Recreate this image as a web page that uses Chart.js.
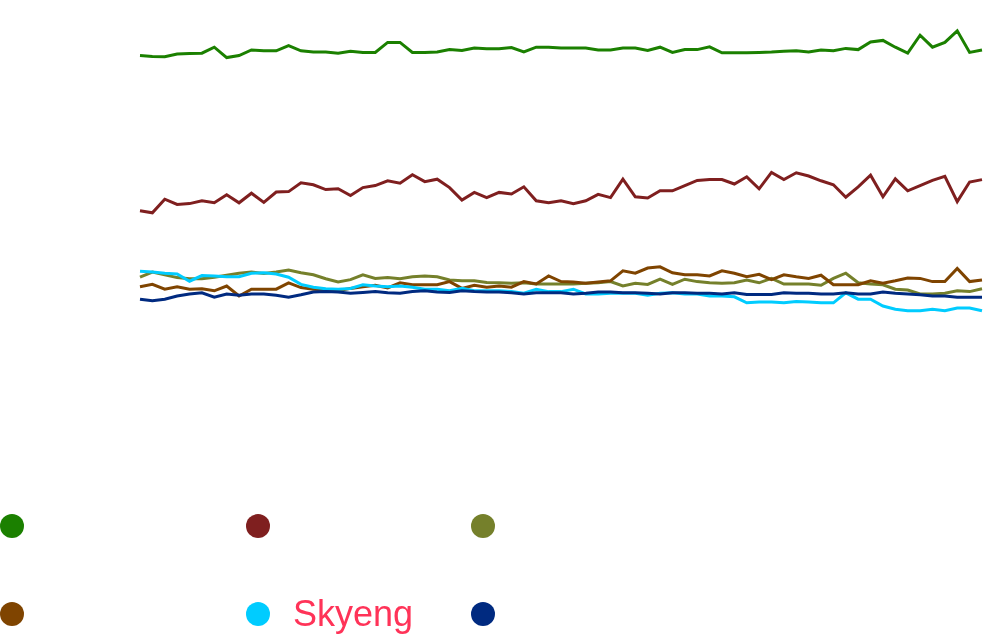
<!DOCTYPE html>
<html>
<head>
<meta charset="utf-8">
<script src="https://cdn.jsdelivr.net/npm/chart.js@4"></script>
<style>
  html, body { margin: 0; padding: 0; background: #fff; }
  body { width: 983px; height: 636px; position: relative; overflow: hidden; font-family: "Liberation Sans", Arial, sans-serif; }
  #chart-box { position: absolute; left: 0; top: 0; width: 983px; height: 440px; }
  #legend { position: absolute; left: 0; top: 0; width: 983px; height: 636px; pointer-events: none; }
  .item { position: absolute; display: flex; align-items: center; height: 40px; }
  .dot { width: 24px; height: 24px; border-radius: 50%; flex: none; }
  .name { margin-left: 23px; font-size: 36px; line-height: 40px; color: #ff3358; white-space: nowrap; }
</style>
</head>
<body>
<div id="chart-box"><canvas id="trend"></canvas></div>
<div id="legend"></div>
<script>
// 週ごとの値 (69 点)
const weeks = [1, 2, 3, 4, 5, 6, 7, 8, 9, 10, 11, 12, 13, 14, 15, 16, 17, 18, 19, 20,
  21, 22, 23, 24, 25, 26, 27, 28, 29, 30, 31, 32, 33, 34, 35, 36, 37, 38, 39, 40,
  41, 42, 43, 44, 45, 46, 47, 48, 49, 50, 51, 52, 53, 54, 55, 56, 57, 58, 59, 60,
  61, 62, 63, 64, 65, 66, 67, 68, 69];

const seriesNames = ['', '', '', '', 'Skyeng', ''];
const seriesColors = ['#1b8000', '#7f1f1f', '#75802b', '#7f4400', '#00ccff', '#002a80'];

const greenValues = [93.6, 93.4, 93.3, 94.0, 94.1, 94.2, 95.7, 93.1, 93.6, 95.0,
  94.8, 94.8, 96.1, 94.8, 94.5, 94.5, 94.2, 94.7, 94.4, 94.4,
  96.9, 96.9, 94.4, 94.4, 94.5, 95.1, 94.9, 95.5, 95.3, 95.3,
  95.6, 94.5, 95.7, 95.7, 95.5, 95.5, 95.5, 95.0, 95.0, 95.5,
  95.5, 94.9, 95.7, 94.4, 95.1, 95.1, 95.8, 94.3, 94.3, 94.3,
  94.4, 94.5, 94.7, 94.8, 94.5, 95.0, 94.8, 95.4, 95.1, 97.0,
  97.4, 95.7, 94.2, 98.7, 95.7, 96.9, 99.8, 94.4, 95.0];

const redValues = [54.8, 54.3, 57.7, 56.4, 56.6, 57.3, 56.8, 58.8, 56.8, 59.2,
  56.9, 59.5, 59.6, 61.8, 61.3, 60.1, 60.3, 58.6, 60.6, 61.1,
  62.3, 61.7, 63.8, 62.1, 62.7, 60.6, 57.5, 59.4, 58.1, 59.4,
  59.0, 60.8, 57.3, 56.8, 57.3, 56.6, 57.3, 58.9, 58.1, 62.7,
  58.3, 58.0, 59.8, 59.8, 61.1, 62.4, 62.6, 62.6, 61.5, 63.3,
  60.3, 64.4, 62.6, 64.3, 63.5, 62.3, 61.3, 58.2, 60.8, 63.7,
  58.3, 62.8, 59.8, 61.1, 62.4, 63.4, 57.1, 62.0, 62.6];

const oliveValues = [38.2, 39.5, 38.8, 38.1, 37.8, 37.8, 38.2, 38.7, 39.2, 39.5,
  39.1, 39.5, 40.0, 39.3, 38.8, 37.8, 37.0, 37.6, 38.8, 37.9,
  38.1, 37.8, 38.3, 38.5, 38.3, 37.5, 37.3, 37.3, 36.9, 36.8,
  36.7, 36.8, 36.5, 36.5, 36.5, 36.5, 36.7, 36.8, 37.1, 36.0,
  36.7, 36.4, 37.7, 36.4, 37.7, 37.1, 36.8, 36.7, 36.8, 37.5,
  36.8, 37.9, 36.5, 36.5, 36.5, 36.2, 37.9, 39.2, 36.8, 36.5,
  36.3, 35.2, 35.0, 34.0, 34.0, 34.2, 34.8, 34.6, 35.3];

const brownValues = [35.8, 36.4, 35.2, 35.8, 35.2, 35.3, 34.8, 36.0, 33.5, 35.2,
  35.2, 35.2, 36.8, 35.6, 35.2, 35.0, 34.8, 35.4, 35.8, 36.2,
  35.5, 36.8, 36.3, 36.3, 36.3, 37.1, 35.4, 36.2, 35.7, 36.0,
  35.7, 37.1, 36.5, 38.5, 37.1, 37.0, 36.7, 37.0, 37.3, 39.8,
  39.2, 40.5, 40.8, 39.3, 38.8, 38.8, 38.5, 39.8, 39.2, 38.3,
  38.9, 37.6, 38.8, 38.3, 37.9, 38.7, 36.3, 36.3, 36.3, 37.3,
  36.7, 37.3, 38.0, 37.9, 37.1, 37.1, 40.4, 37.1, 37.5];

const skyengValues = [39.7, 39.5, 39.2, 39.0, 37.2, 38.6, 38.5, 38.3, 38.3, 39.2,
  39.3, 39.0, 38.2, 36.4, 35.7, 35.3, 35.2, 35.4, 36.3, 36.0,
  35.8, 36.0, 35.7, 35.2, 35.2, 34.8, 35.4, 34.8, 34.8, 34.8,
  34.6, 34.2, 35.2, 34.6, 34.6, 35.2, 34.0, 34.0, 34.2, 34.2,
  34.2, 33.7, 34.2, 34.3, 34.0, 34.0, 33.5, 33.5, 33.3, 31.8,
  32.0, 32.0, 31.8, 32.1, 32.0, 31.8, 31.8, 34.3, 32.7, 32.7,
  31.0, 30.2, 29.8, 29.8, 30.2, 29.8, 30.5, 30.5, 29.8];

const navyValues = [32.7, 32.3, 32.7, 33.5, 34.0, 34.3, 33.2, 34.0, 33.7, 34.0,
  34.0, 33.7, 33.2, 33.8, 34.5, 34.6, 34.5, 34.2, 34.4, 34.6,
  34.3, 34.2, 34.6, 34.8, 34.5, 34.4, 34.8, 34.6, 34.5, 34.5,
  34.3, 34.0, 34.3, 34.3, 34.3, 34.0, 34.2, 34.5, 34.5, 34.3,
  34.3, 34.2, 34.0, 34.3, 34.3, 34.2, 34.2, 34.0, 34.3, 33.9,
  33.9, 33.9, 34.3, 34.2, 34.2, 34.0, 34.0, 34.3, 34.0, 34.0,
  34.5, 34.2, 34.0, 33.8, 33.5, 33.5, 33.2, 33.2, 33.2];

const seriesValues = [greenValues, redValues, oliveValues, brownValues, skyengValues, navyValues];

function init() {
    const datasets = seriesValues.map((values, i) => ({
        label: seriesNames[i],
        data: values,
        borderColor: seriesColors[i],
        backgroundColor: seriesColors[i],
        borderWidth: 3,
        pointRadius: 0,
        pointHoverRadius: 0,
        tension: 0,
        fill: false,
        order: seriesValues.length - i,   // 後の系列を上に描く
    }));

    new Chart(document.getElementById('trend').getContext('2d'), {
        type: 'line',
        data: { labels: weeks, datasets },
        options: {
            responsive: true,
            maintainAspectRatio: false,
            animation: false,
            layout: { padding: { left: 140, right: 1, top: 10, bottom: 10 } },
            plugins: {
                legend: { display: false },
                tooltip: { enabled: false },
            },
            scales: {
                x: { display: false },
                y: { display: false, min: 0, max: 105 },
            },
        }
    });

    // 凡例 (3 列 x 2 行)
    const legend = document.getElementById('legend');
    const colLeft = [0, 246, 471];
    const rowTop = [506, 594];
    seriesNames.forEach((name, i) => {
        const item = document.createElement('div');
        item.className = 'item';
        item.style.left = colLeft[i % 3] + 'px';
        item.style.top = rowTop[Math.floor(i / 3)] + 'px';
        const dot = document.createElement('span');
        dot.className = 'dot';
        dot.style.background = seriesColors[i];
        item.appendChild(dot);
        if (name) {
            const label = document.createElement('span');
            label.className = 'name';
            label.textContent = name;
            item.appendChild(label);
        }
        legend.appendChild(item);
    });
}

document.addEventListener('DOMContentLoaded', init);
</script>
</body>
</html>
